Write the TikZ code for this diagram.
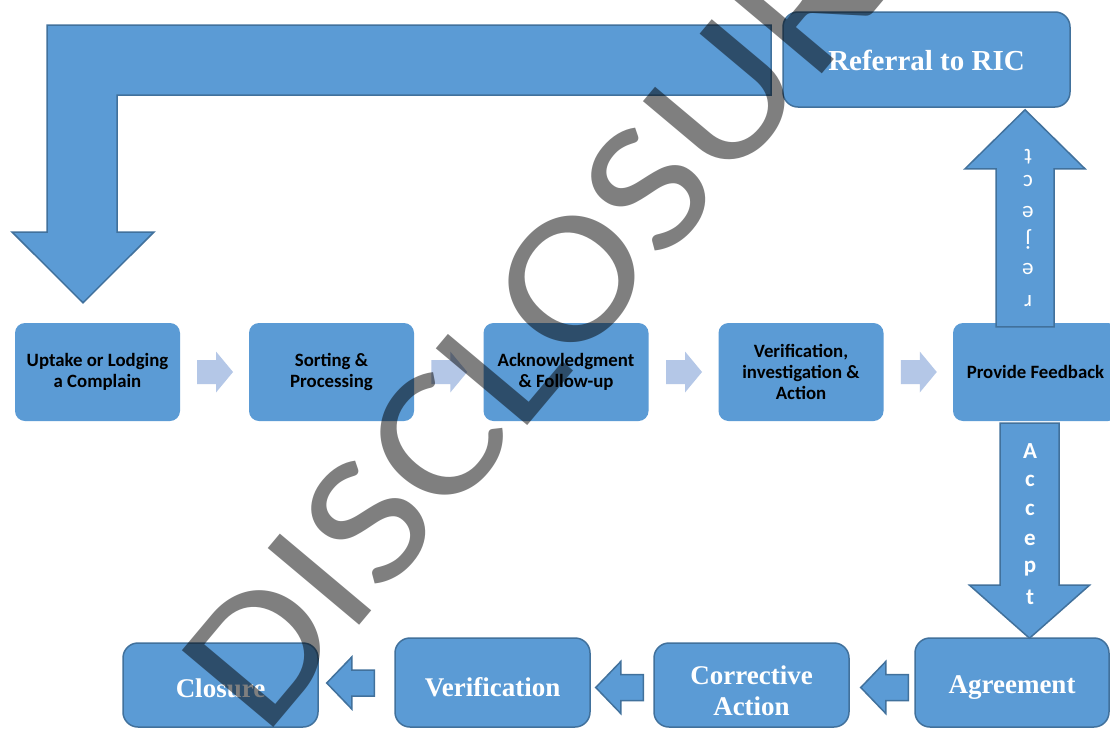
\documentclass[tikz,border=0pt]{standalone}
\usepackage{fontspec}
\setmainfont{Liberation Serif}
\newfontfamily\calfont{Carlito}
\usetikzlibrary{calc}
\definecolor{fillb}{RGB}{91,155,213}
\definecolor{lineb}{RGB}{65,113,156}
\definecolor{lightb}{RGB}{180,199,231}
\newcommand\blkleft[1]{\draw[blk, shift={#1}] (0,0) -- (25,-26) -- (25,-13) -- (47.5,-13) -- (47.5,13) -- (25,13) -- (25,26) -- cycle;}
\begin{document}
\begin{tikzpicture}[x=1pt,y=-1pt,
  topbox/.style={rectangle, rounded corners=10pt, fill=fillb, minimum width=165pt, minimum height=98pt, inner sep=2pt, align=center, font=\calfont\bfseries\fontsize{18.8}{21}\selectfont, text=black},
  botbox/.style={rectangle, rounded corners=15pt, fill=fillb, draw=lineb, line width=1.5pt, inner sep=0pt},
  bottxt/.style={align=center, inner sep=0pt, font=\bfseries\fontsize{27}{31}\selectfont, text=white},
  blk/.style={fill=fillb, draw=lineb, line width=1.5pt, line join=miter},
  chev/.style={fill=lightb},
  vlet/.style={font=\calfont\fontsize{23}{23}\selectfont, text=white, inner sep=0pt},
  blet/.style={font=\calfont\bfseries\fontsize{23}{23}\selectfont, text=white, inner sep=0pt}
]
\useasboundingbox (0,0) rectangle (1110,728);
\fill[white] (0,0) rectangle (1110,728);
\clip (0,0) rectangle (1110,728);

% top row
\node[topbox] (uptake) at (97.5,372) {Uptake or Lodging\\a Complain};
\node[topbox] (sorting) at (331.5,372) {Sorting \&\\Processing};
\node[topbox] (ack) at (566,372) {Acknowledgment\\\& Follow-up};
\node[topbox] (verif) at (801,372) {Verification,\\investigation \&\\Action};
\node[topbox] (feedback) at (1035.5,372) {Provide Feedback};

\foreach \p/\q in {uptake/sorting, sorting/ack, ack/verif, verif/feedback}
  \fill[chev, shift={($(\p.east)!0.5!(\q.west)$)}] (-17.5,-12) -- (1.5,-12) -- (1.5,-20.5) -- (18.5,0) -- (1.5,20.5) -- (1.5,12) -- (-17.5,12) -- cycle;

% referral box
\node[botbox, minimum width=287pt, minimum height=95pt] (ric) at (926.5,59.5) {};
\node[bottxt, font=\bfseries\fontsize{29}{32}\selectfont] (rictxt) at ($(ric.center)+(0,0.5)$) {Referral to RIC};

% bent arrow back to start
\coordinate (ltip) at ($(uptake.north)+(-14.5,-20)$);
\draw[blk] (771,25) -- (47,25) -- (47,232) -- (12,232) -- (ltip) -- (154,232) -- (117,232) -- (117,95) -- (771,95) -- cycle;

% up arrow (reject)
\coordinate (rb) at ($(feedback.north)+(-10.5,4)$);
\draw[blk, shift={(rb)}] (-29,0) -- (-29,-158) -- (-60,-158) -- (0,-217) -- (60,-158) -- (29,-158) -- (29,0) -- cycle;
\node[vlet, rotate=180] (r1) at (1028,157) {t};
\node[vlet, rotate=180] (r2) at (1028,181) {c};
\node[vlet, rotate=180] (r3) at (1028,212) {e};
\node[vlet, rotate=180] (r4) at (1028,239) {j};
\node[vlet, rotate=180] (r5) at (1028,269) {e};
\node[vlet, rotate=180] (r6) at (1028,301) {r};

% bottom row
\node[botbox, minimum width=195pt, minimum height=84pt] (closure) at (220.5,685) {};
\node[botbox, minimum width=195pt, minimum height=89pt] (verif2) at (492.5,682.5) {};
\node[botbox, minimum width=195pt, minimum height=84pt] (corr) at (751.5,685) {};
\node[botbox, minimum width=194pt, minimum height=89pt] (agree) at (1012,682.5) {};
\node[bottxt] (closuretxt) at ($(closure.center)+(0,3)$) {Closure};
\node[bottxt] (verif2txt) at ($(verif2.center)+(0,4.5)$) {Verification};
\node[bottxt] (corrtxt) at ($(corr.center)+(0,5.5)$) {Corrective\\Action};
\node[bottxt] (agreetxt) at ($(agree.center)+(0,5)$) {Agreement};

% down arrow (accept)
\draw[blk, shift={($(feedback.south)+(-6,2)$)}] (-29.5,0) -- (-29.5,162) -- (-60,162) -- (0,215) -- (60,162) -- (29.5,162) -- (29.5,0) -- cycle;
\node[blet] (a1) at (1030,451) {A};
\node[blet] (a2) at (1030,481) {c};
\node[blet] (a3) at (1030,510) {c};
\node[blet] (a4) at (1030,540) {e};
\node[blet] (a5) at (1030,569) {p};
\node[blet] (a6) at (1030,597) {t};

% left arrows
\blkleft{($(corr.east)+(11,2.5)$)}
\blkleft{($(verif2.east)+(5,5)$)}
\blkleft{($(closure.east)+(8,-2)$)}

% watermark
\node[rotate=50, xscale=1.14, anchor=base, font=\calfont\fontsize{186}{186}\selectfont, text=black, text opacity=0.5, inner sep=0pt] (wm) at (609,328) {DISCLOSURE};
\end{tikzpicture}
\end{document}
